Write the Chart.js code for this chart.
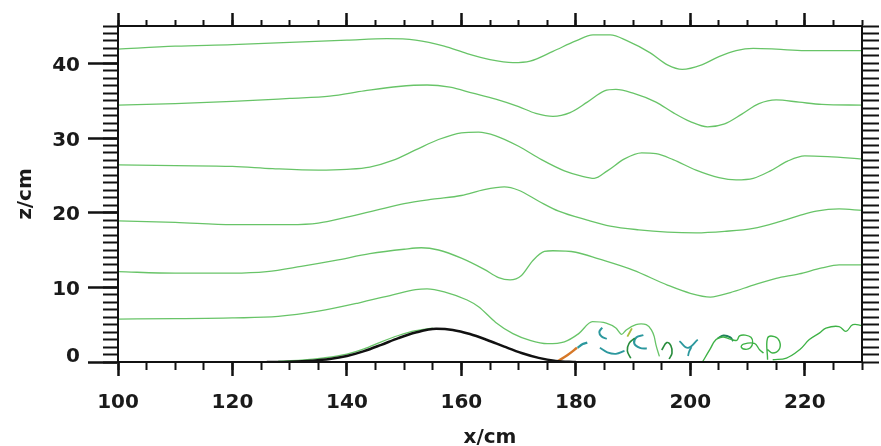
<!DOCTYPE html>
<html>
<head>
<meta charset="utf-8">
<script src="https://cdn.jsdelivr.net/npm/chart.js@4.4.1/dist/chart.umd.min.js"></script>
<style>
  html, body { margin: 0; padding: 0; background: #ffffff; }
  canvas { display: block; }
</style>
</head>
<body>
<canvas id="flow" width="881" height="446"></canvas>
<script>
// Axis ranges and tick spacing (cm)
const xRange = [100, 230];
const zRange = [0, 45];
const xMajorStep = 20, xMinorStep = 5;
const zMajorStep = 10, zMinorStep = 1;

// Hill profile
const hillX = [126, 130, 134, 137, 140, 143, 146, 149, 152, 155.6, 158.5, 161.5, 164.5, 167.5, 170.5, 173.5, 176.5, 180];
const hillZ = [0, 0.04, 0.18, 0.4, 0.8, 1.45, 2.3, 3.2, 3.95, 4.45, 4.3, 3.75, 2.95, 2.05, 1.2, 0.55, 0.15, 0];

// Streamlines, top to bottom
const line1X = [100, 110, 120, 130, 140, 147, 152, 157, 161, 165, 169, 172, 176, 180, 183, 186, 189, 193, 196, 198.6, 202, 205, 208, 211, 215, 220, 230];
const line1Z = [41.9, 42.3, 42.5, 42.8, 43.1, 43.3, 43.1, 42.3, 41.3, 40.5, 40.1, 40.3, 41.6, 43.0, 43.8, 43.8, 43.0, 41.4, 39.8, 39.2, 39.8, 40.9, 41.7, 42.0, 41.9, 41.7, 41.7];

const line2X = [100, 110, 120, 130, 137, 143, 149, 154, 158, 162, 166, 170, 173, 176, 179, 182, 185, 187, 190, 194, 197, 200, 203, 206, 209, 212, 215, 219, 223, 230];
const line2Z = [34.4, 34.6, 34.9, 35.3, 35.6, 36.3, 36.9, 37.1, 36.8, 36.0, 35.2, 34.2, 33.3, 32.9, 33.4, 34.8, 36.3, 36.5, 36.0, 34.8, 33.4, 32.2, 31.5, 31.9, 33.2, 34.6, 35.1, 34.8, 34.5, 34.4];

const line3X = [100, 110, 120, 127, 135, 140, 144, 148, 152, 156, 160, 163, 166, 170, 174, 178, 181, 183.2, 185.5, 188.5, 191.5, 194, 197, 201, 205, 208, 211, 214, 217, 220, 224, 230];
const line3Z = [26.4, 26.3, 26.2, 25.9, 25.7, 25.8, 26.1, 27.0, 28.4, 29.8, 30.7, 30.8, 30.3, 28.9, 27.1, 25.6, 24.9, 24.6, 25.6, 27.2, 28.0, 27.9, 27.1, 25.7, 24.7, 24.4, 24.6, 25.6, 26.9, 27.6, 27.5, 27.2];

const line4X = [100, 110, 120, 130, 135, 140, 145, 150, 155, 160, 164, 167.5, 170, 173.6, 177, 182, 186, 191, 196, 201, 206, 211, 215.6, 219, 222, 226, 230];
const line4Z = [18.9, 18.7, 18.4, 18.4, 18.6, 19.4, 20.3, 21.2, 21.8, 22.3, 23.1, 23.45, 23.0, 21.5, 20.2, 19.0, 18.2, 17.7, 17.4, 17.3, 17.5, 17.9, 18.8, 19.6, 20.2, 20.5, 20.3];

const line5X = [100, 110, 120, 126, 132, 138, 144, 150, 153, 156, 160, 164, 166.5, 168.5, 170.5, 172.5, 174.5, 176, 180, 184, 190, 196, 200, 203.5, 207, 211, 215, 219, 223, 226, 230];
const line5Z = [12.1, 11.9, 11.9, 12.1, 12.8, 13.6, 14.5, 15.1, 15.3, 15.0, 13.9, 12.4, 11.3, 11.0, 11.6, 13.6, 14.8, 14.9, 14.7, 13.8, 12.3, 10.3, 9.2, 8.7, 9.3, 10.3, 11.2, 11.8, 12.6, 13.0, 13.0];

const line6X = [100, 110, 120, 128, 135, 142, 148, 152, 154, 157, 161, 163, 166, 169, 172, 175, 178, 180.5, 182.9, 185.3, 187.0, 188.0, 188.8, 190.5, 191.4, 192.3, 193.2, 193.7, 194.0, 194.6];
const line6Z = [5.75, 5.8, 5.9, 6.1, 6.8, 7.9, 9.0, 9.7, 9.8, 9.4, 8.3, 7.4, 5.3, 3.8, 2.9, 2.45, 2.7, 3.8, 5.4, 5.2, 4.55, 3.7, 4.3, 5.0, 5.1, 5.0, 4.3, 3.4, 2.3, 0.75];

// Near-wall streamline over the upwind slope
const line7X = [128, 132, 136, 140, 143, 146, 149, 152, 155];
const line7Z = [0.12, 0.25, 0.55, 1.05, 1.75, 2.7, 3.55, 4.2, 4.55];

// Turbulent wake behind the hill
const wakeAX = [195.0, 195.9, 196.6, 196.8, 196.3];
const wakeAZ = [1.6, 2.6, 2.2, 1.2, 0.4];
const wakeBX = [202.2, 203.4, 204.5, 205.7, 206.8, 208.1, 208.6, 209.6, 210.6, 210.9, 210.5, 209.6, 208.9, 209.3, 211.2, 212.1, 212.8];
const wakeBZ = [0.1, 1.65, 3.0, 3.35, 3.1, 2.9, 3.5, 3.6, 3.3, 2.6, 1.9, 1.7, 2.0, 2.4, 2.5, 1.65, 1.2];
const wakeCX = [213.5, 213.5, 214.7, 215.6, 215.5, 214.4, 213.5];
const wakeCZ = [0.3, 3.2, 3.4, 2.75, 1.65, 1.2, 1.65];
const wakeDX = [214.4, 216.8, 219.1, 220.8, 222.6, 223.7, 226.0, 227.2, 228.4, 230];
const wakeDZ = [0.3, 0.53, 1.65, 3.0, 3.9, 4.55, 4.75, 4.1, 5.0, 4.9];
const wakeEX = [190.3, 189.3, 189.0, 189.6];
const wakeEZ = [3.2, 2.5, 1.5, 0.5];

// Vortex fragments
const eddy1X = [180.3, 181.2, 182.0];
const eddy1Z = [1.9, 2.4, 2.6];
const eddy2X = [184.6, 184.1, 184.5, 185.4];
const eddy2Z = [4.6, 4.0, 3.4, 3.1];
const eddy3X = [184.2, 185.5, 187.0, 188.5];
const eddy3Z = [1.9, 1.3, 1.1, 1.5];
const eddy4X = [191.8, 190.6, 190.2, 191.2, 192.4];
const eddy4Z = [3.6, 3.3, 2.5, 1.9, 1.8];
const eddy5X = [198.1, 199.6, 201.3];
const eddy5Z = [2.8, 1.9, 3.0];
const eddy6X = [200.2, 199.8, 199.6];
const eddy6Z = [2.0, 1.4, 0.8];
const eddy7X = [204.8, 205.8, 207.0, 207.5];
const eddy7Z = [3.2, 3.55, 3.3, 2.8];
const shearX = [176.8, 178.5, 180.2];
const shearZ = [0.1, 0.9, 1.9];
const streakX = [189.0, 189.8];
const streakZ = [3.4, 4.5];

const STREAM = 'rgb(104,196,104)';
const WAKE = 'rgb(62,178,70)';
const TEAL = 'rgb(44,152,158)';
const INK = '#111111';
const TEXT = '#1a1a1a';

const pts = (xs, zs) => xs.map((x, i) => ({ x: x, y: zs[i] }));

function curve(xs, zs, color, width, looped) {
  return {
    data: pts(xs, zs),
    borderColor: color,
    borderWidth: width,
    pointRadius: 0,
    fill: false,
    tension: looped ? 0.4 : 0,
    cubicInterpolationMode: looped ? 'default' : 'monotone',
    xAxisID: 'x',
    yAxisID: 'y'
  };
}

const tickFont = { family: "'DejaVu Sans', sans-serif", size: 20, weight: 'bold', lineHeight: 1.0 };
const zTickFont = { family: "'DejaVu Sans', sans-serif", size: 20, weight: 'bold', lineHeight: 0.8 };
const titleFont = { family: "'DejaVu Sans', sans-serif", size: 20, weight: 'bold', lineHeight: 1.0 };

// keep only ticks that fall on the major step
const onStep = step => scale => {
  scale.ticks = scale.ticks.filter(t => Math.abs(t.value / step - Math.round(t.value / step)) < 1e-9);
};

function tickAxis(position, range, step, length, width, extra) {
  return Object.assign({
    type: 'linear',
    position: position,
    min: range[0],
    max: range[1],
    bounds: 'data',
    weight: 0,
    ticks: { display: false, stepSize: step, autoSkip: false, maxTicksLimit: 1000 },
    grid: { drawOnChartArea: false, drawTicks: true, tickLength: length, tickWidth: width, tickColor: INK, color: INK },
    border: { display: true, color: INK, width: 2, z: 1 }
  }, extra);
}

const scales = {
  x: tickAxis('bottom', xRange, xMajorStep, 14, 2.5, {
    weight: 1,
    ticks: { display: true, stepSize: xMajorStep, autoSkip: false, maxRotation: 0, padding: 17, color: TEXT, font: tickFont },
    title: { display: true, text: 'x/cm', color: TEXT, font: titleFont, padding: { top: 0, bottom: -2 } },
    afterBuildTicks: onStep(xMajorStep),
    afterFit: s => { s.height = 84; }
  }),
  xMinor: tickAxis('bottom', xRange, xMinorStep, 8, 2, { afterFit: s => { s.height = 0; } }),
  xTop: tickAxis('top', xRange, xMajorStep, 13, 2.5, {
    weight: 1,
    afterBuildTicks: onStep(xMajorStep),
    afterFit: s => { s.height = 26; }
  }),
  xTopMinor: tickAxis('top', xRange, xMinorStep, 6, 2, { afterFit: s => { s.height = 0; } }),
  y: tickAxis('left', zRange, zMajorStep, 30, 2.5, {
    weight: 1,
    ticks: {
      display: true, stepSize: zMajorStep, autoSkip: false, padding: 8, labelOffset: 2.5,
      color: TEXT, font: zTickFont,
      callback: v => (v === 0 ? ['0', ''] : String(v))
    },
    title: { display: true, text: 'z/cm', color: TEXT, font: titleFont, padding: { top: 16, bottom: 0 } },
    afterBuildTicks: onStep(zMajorStep),
    afterFit: s => { s.width = 118; }
  }),
  yMinor: tickAxis('left', zRange, zMinorStep, 15, 2, { afterFit: s => { s.width = 0; } }),
  yRight: tickAxis('right', zRange, zMinorStep, 17, 2, { afterFit: s => { s.width = 19; } })
};

const datasets = [
  curve(hillX, hillZ, INK, 2.5, false),
  curve(shearX, shearZ, 'rgb(214,120,40)', 2.5, false),
  curve(streakX, streakZ, 'rgb(170,190,60)', 1.8, false),
  curve(line7X, line7Z, STREAM, 1.3, false),
  curve(line1X, line1Z, STREAM, 1.3, false),
  curve(line2X, line2Z, STREAM, 1.3, false),
  curve(line3X, line3Z, STREAM, 1.3, false),
  curve(line4X, line4Z, STREAM, 1.3, false),
  curve(line5X, line5Z, STREAM, 1.3, false),
  curve(line6X, line6Z, STREAM, 1.3, false),
  curve(wakeAX, wakeAZ, 'rgb(40,140,60)', 1.6, true),
  curve(wakeBX, wakeBZ, WAKE, 1.4, true),
  curve(wakeCX, wakeCZ, WAKE, 1.4, true),
  curve(wakeDX, wakeDZ, WAKE, 1.3, true),
  curve(wakeEX, wakeEZ, 'rgb(40,140,60)', 1.6, true),
  curve(eddy1X, eddy1Z, TEAL, 2.2, true),
  curve(eddy2X, eddy2Z, TEAL, 2.0, true),
  curve(eddy3X, eddy3Z, TEAL, 1.8, true),
  curve(eddy4X, eddy4Z, TEAL, 2.0, true),
  curve(eddy5X, eddy5Z, TEAL, 1.8, true),
  curve(eddy6X, eddy6Z, TEAL, 1.8, true),
  curve(eddy7X, eddy7Z, 'rgb(30,130,90)', 1.8, true)
];

new Chart(document.getElementById('flow'), {
  type: 'line',
  data: { datasets: datasets },
  options: {
    responsive: false,
    animation: false,
    devicePixelRatio: 1,
    layout: { padding: 0 },
    plugins: { legend: { display: false }, tooltip: { enabled: false } },
    scales: scales
  }
});
</script>
</body>
</html>
